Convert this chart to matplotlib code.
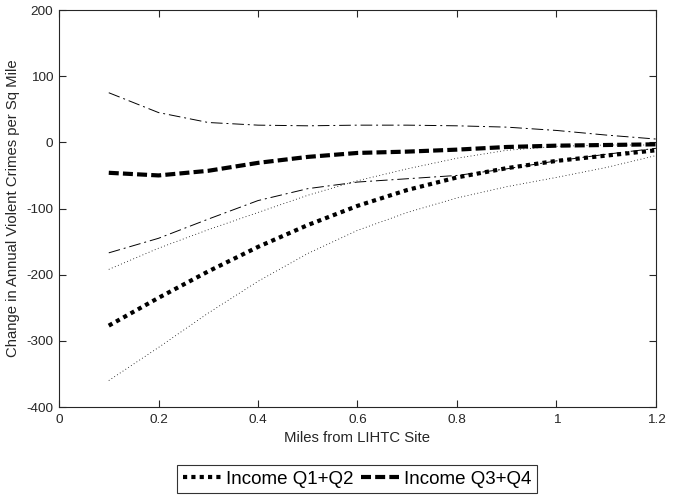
import matplotlib
matplotlib.use("Agg")
import matplotlib.pyplot as plt

plt.rcParams['font.family'] = ['Liberation Sans', 'DejaVu Sans']
plt.rcParams['axes.unicode_minus'] = False

miles = [0.1, 0.2, 0.3, 0.4, 0.5, 0.6, 0.7, 0.8, 0.9, 1.0, 1.1, 1.2]

q12_est = [-277, -235, -195, -158, -125, -96, -72, -53, -39, -28, -20, -12]
q12_lo = [-360, -310, -258, -210, -168, -133, -106, -84, -67, -53, -38, -20]
q12_hi = [-192, -160, -132, -106, -80, -58, -40, -24, -12, -6, -4, -4]

q34_est = [-46, -50, -43, -31, -22, -16, -14, -11, -7, -5, -4, -3]
q34_hi = [75, 45, 30, 26, 25, 26, 26, 25, 23, 18, 11, 5]
q34_lo = [-167, -145, -116, -88, -70, -60, -55, -50, -40, -28, -18, -9]

xticks = [0, 0.2, 0.4, 0.6, 0.8, 1, 1.2]
xticklabels = ['0', '0.2', '0.4', '0.6', '0.8', '1', '1.2']
yticks = [-400, -300, -200, -100, 0, 100, 200]

fig = plt.figure(figsize=(6.73, 4.96), dpi=100)
ax = fig.add_axes([0.0877, 0.1794, 0.887, 0.8004])

l1, = ax.plot(miles, q12_est, color='black', lw=3.0, linestyle=(0, (1, 1)), label='Income Q1+Q2')
ax.plot(miles, q12_lo, color='black', lw=0.6, linestyle=(0, (1, 3)))
ax.plot(miles, q12_hi, color='black', lw=0.6, linestyle=(0, (1, 3)))
l2, = ax.plot(miles, q34_est, color='black', lw=3.0, linestyle=(0, (2.4, 1.0)), label='Income Q3+Q4')
ax.plot(miles, q34_hi, color='black', lw=0.7, linestyle=(0, (12, 4, 2, 4)))
ax.plot(miles, q34_lo, color='black', lw=0.7, linestyle=(0, (12, 4, 2, 4)))

ax.set_xlim(0, 1.2)
ax.set_ylim(-400, 200)
ax.set_xticks(xticks)
ax.set_xticklabels(xticklabels)
ax.set_yticks(yticks)
ax.tick_params(direction='in', length=5, labelsize=9.7, colors='#262626', top=True, right=True)
ax.tick_params(axis='x', pad=5.3)
ax.tick_params(axis='y', pad=4.3)
for s in ax.spines.values():
    s.set_color('#262626')
    s.set_linewidth(0.8)
ax.set_xlabel('Miles from LIHTC Site', fontsize=10.7, color='#262626', labelpad=3)
ax.set_ylabel('Change in Annual Violent Crimes per Sq Mile', fontsize=10.7, color='#262626')

leg = fig.legend(handles=[l1, l2], loc='center', bbox_to_anchor=(0.531, 0.0343), ncol=2,
                 fontsize=13.5, frameon=True, fancybox=False, edgecolor='black',
                 handlelength=2.0, handletextpad=0.3, columnspacing=0.4, borderpad=0.3,
                 borderaxespad=0)
leg.get_frame().set_linewidth(0.8)

fig.savefig('out.png', dpi=100)
